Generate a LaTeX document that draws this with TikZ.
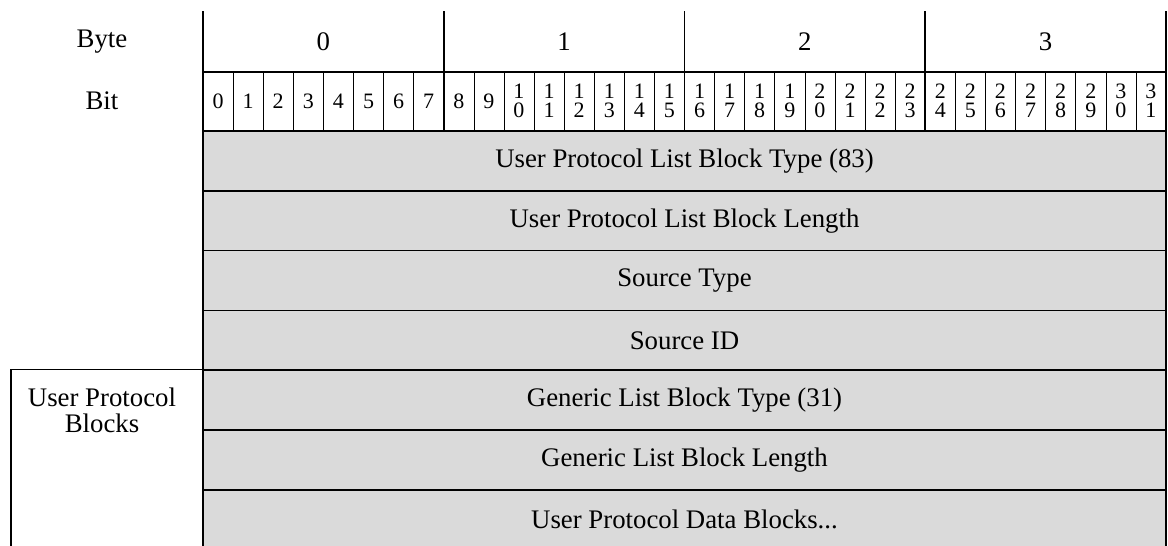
\documentclass[tikz,border=0pt]{standalone}
\usepackage{fontspec}
\setmainfont{Liberation Serif}
\usetikzlibrary{positioning}
\definecolor{fieldgray}{RGB}{218,218,218}
\newcommand{\fielddots}{...}

\begin{document}
\begin{tikzpicture}[
    x=0.5pt, y=-0.5pt,
    field/.style={draw, line width=0.8pt, fill=fieldgray, minimum width=481.5pt, minimum height=29.9pt, inner sep=0pt, font=\fontsize{13.4}{15}\selectfont},
    lbl/.style={font=\fontsize{13.4}{15}\selectfont, align=center},
    bitnum/.style={font=\fontsize{11}{9.5}\selectfont, align=center, inner sep=0pt},
    thickline/.style={line width=0.8pt},
    thinline/.style={line width=0.3pt}
]
    \useasboundingbox (0,0) rectangle (1168,546);

    % field rows
    \foreach \txt [count=\i] in {User Protocol List Block Type (83), User Protocol List Block Length, Source Type, Source ID, Generic List Block Type (31), Generic List Block Length, User Protocol Data Blocks\fielddots}
        \node[field] (field\i) at (684.5, {131+59.8*(\i-0.5)}) {\txt};

    % header labels
    \node[lbl] (bytelbl) at (102,42) {Byte};
    \node[lbl] (bitlbl) at (102,101) {Bit};

    % byte numbers
    \foreach \k in {0,...,3}
        \node[lbl] (byte\k) at ({203+240.75*(\k+0.5)},42) {\k};

    % bit numbers
    \foreach \i in {0,...,31} {
        \pgfmathtruncatemacro{\tens}{int(\i/10)}
        \pgfmathtruncatemacro{\ones}{\i-10*\tens}
        \ifnum\i<10 \edef\bittxt{\i}\else \edef\bittxt{\tens\noexpand\\\ones}\fi
        \node[bitnum] (bit\i) at ({203+30.09375*(\i+0.5)},101) {\bittxt};
    }

    % header grid
    \foreach \i in {1,...,31}
        \draw[thinline] ({203+30.09375*\i},72) -- ({203+30.09375*\i},131);
    \foreach \k in {0,...,4}
        \draw[thickline] ({203+240.75*\k},11) -- ({203+240.75*\k},131);
    \draw[thickline] (203,72) -- (1166,72);

    % group box
    \draw[thickline] (field5.north west) -| (11,546);
    \node[lbl, anchor=north] (upblocks) at (102,381) {User Protocol\\[-2pt]Blocks};
\end{tikzpicture}
\end{document}
